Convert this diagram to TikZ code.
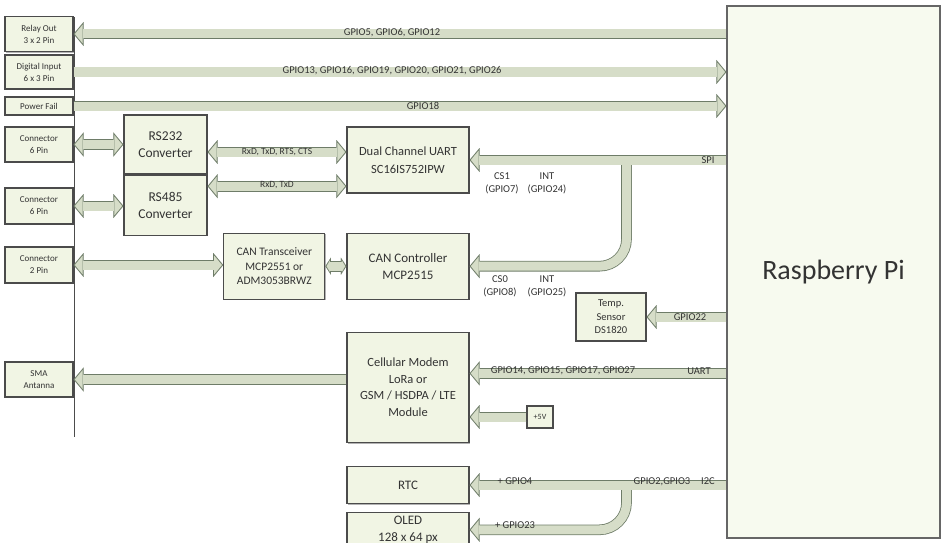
\documentclass[tikz,border=0pt]{standalone}
\usepackage{fontspec}
\setmainfont{Carlito}
\usetikzlibrary{positioning,arrows.meta,shadows}
\definecolor{boxfill}{HTML}{F1F5E4}
\definecolor{pifill}{HTML}{F7FAEF}
\definecolor{busfill}{HTML}{D6DDC8}
\definecolor{busline}{HTML}{6E7C68}
\definecolor{boxline}{HTML}{4B4B4B}
\definecolor{txt}{HTML}{333333}
\tikzset{
  Bo/.tip={Triangle[length=10pt, width=24pt, line width=0.01pt]},
  Bi/.tip={Triangle[length=7.7pt, width=18.5pt, line width=0.01pt]},
  Bso/.tip={Triangle[length=5.5pt, width=17pt, line width=0.01pt]},
  Bsi/.tip={Triangle[length=3.3pt, width=11pt, line width=0.01pt]},
  block/.style={draw=boxline, line width=1.2pt, fill=boxfill, text=txt, align=center, inner sep=1pt,
    drop shadow={shadow xshift=1.2pt, shadow yshift=-1.2pt, fill=black!50, opacity=.6}},
  port/.style={block, font=\fontsize{9}{12}\selectfont, minimum width=68pt},
  chip/.style={block, minimum width=122pt, font=\fontsize{13}{17}\selectfont},
  bus/.style={draw=busline, line width=10.6pt, -Bo,
    postaction={draw=busfill, line width=9pt, -Bi, shorten >=1.3pt}},
  bus2/.style={draw=busline, line width=10.6pt, Bo-Bo,
    postaction={draw=busfill, line width=9pt, Bi-Bi, shorten >=1.3pt, shorten <=1.3pt}},
  bus2s/.style={draw=busline, line width=10.6pt, Bso-Bso,
    postaction={draw=busfill, line width=9pt, Bsi-Bsi, shorten >=1.2pt, shorten <=1.2pt}},
  patch/.style={draw=busfill, line width=9pt},
  lbl/.style={text=txt, font=\fontsize{10.5}{13}\selectfont, inner sep=0pt, align=center},
}

\begin{document}
\begin{tikzpicture}[x=1pt,y=-1pt]
   \useasboundingbox (0,0) rectangle (942,543);
   \draw[black!70, line width=0.8pt] (74,17) -- (74,437);
   % connectors on the left
   \node[port, minimum height=35pt] (relay) at (39,34) {Relay Out\\3 x 2 Pin};
   \node[port, minimum height=34pt] (digital) at (39,72) {Digital Input\\6 x 3 Pin};
   \node[port, minimum height=18pt] (pwrfail) at (39,106) {Power Fail};
   \node[port, minimum height=35pt] (con232) at (39,144.5) {Connector\\6 Pin};
   \node[port, minimum height=36pt] (con485) at (39,206) {Connector\\6 Pin};
   \node[port, minimum height=36pt] (concan) at (39,265) {Connector\\2 Pin};
   \node[port, minimum height=35pt] (sma) at (39,379.5) {SMA\\Antanna};
   % chips
   \node[chip, minimum width=83pt, minimum height=59pt, font=\fontsize{13.5}{17}\selectfont] (rs232) at (165.5,144.5) {RS232\\Converter};
   \node[chip, minimum width=83pt, minimum height=60pt, font=\fontsize{13.5}{17}\selectfont] (rs485) [below=0pt of rs232] {RS485\\Converter};
   \node[chip, minimum height=66pt, font=\fontsize{12.5}{18}\selectfont] (uart) at (408,160) {Dual Channel UART\\SC16IS752IPW};
   \node[chip, minimum height=66pt] (canctl) [below=39pt of uart] {CAN Controller\\MCP2515};
   \node[chip, minimum width=101pt, minimum height=66pt, font=\fontsize{11.5}{14.5}\selectfont] (cantrx) [left=21pt of canctl] {CAN Transceiver\\MCP2551 or\\ADM3053BRWZ};
   \node[chip, minimum height=110pt, font=\fontsize{12.5}{16.5}\selectfont] (modem) [below=32pt of canctl] {Cellular Modem\\LoRa or\\GSM / HSDPA / LTE\\Module};
   \node[chip, minimum height=37pt] (rtc) [below=23pt of modem] {RTC};
   \node[chip, minimum height=34pt] (oled) [below=8pt of rtc] {OLED\\128 x 64 px};
   \node[block, minimum width=70pt, minimum height=48pt, font=\fontsize{10.5}{13.5}\selectfont] (temp) at (611,317) {Temp.\\Sensor\\DS1820};
   \node[block, minimum width=26pt, minimum height=22pt, font=\fontsize{8}{10}\selectfont] (v5) at (540,417) {+5V};
   \node[block, fill=pifill, draw=black!60, minimum width=213pt, minimum height=532pt, font=\fontsize{28}{32}\selectfont] (pi) at (833.5,272) {Raspberry Pi};
   % buses
   \draw[bus] (relay.east -| pi.west) -- (relay.east);
   \draw[bus] (digital.east) -- (digital.east -| pi.west);
   \draw[bus] (pwrfail.east) -- (pwrfail.east -| pi.west);
   \draw[bus2] (con232.east) -- (con232.east -| rs232.west);
   \draw[bus2] (con485.east) -- (con485.east -| rs485.west);
   \draw[bus2] (concan.east) -- (concan.east -| cantrx.west);
   \draw[bus2s] (cantrx) -- (canctl);
   \coordinate (ser1) at ([yshift=-7.5pt]rs232.east);
   \coordinate (ser2) at ([yshift=19pt]rs485.east);
   \draw[bus2] (ser1) -- (ser1 -| uart.west);
   \draw[bus2] (ser2) -- (ser2 -| uart.west);
   \coordinate (tap) at (626.5,0);
   \draw[bus] (uart.east -| pi.west) -- (uart.east);
   \draw[bus, rounded corners=27pt] (tap |- uart.east) |- (canctl.east);
   \draw[patch] ([xshift=-5.3pt]tap |- uart.east) -- ([xshift=5.3pt]tap |- uart.east);
   \draw[bus] (temp.east -| pi.west) -- (temp.east);
   \coordinate (ser3) at ([yshift=14pt]modem.east);
   \draw[bus] (ser3 -| pi.west) -- (ser3);
   \draw[bus] (v5.west) -- (v5.west -| modem.east);
   \draw[bus] (sma.east -| modem.west) -- (sma.east);
   \draw[bus] (rtc.east -| pi.west) -- (rtc.east);
   \draw[bus, rounded corners=27pt] (tap |- rtc.east) |- (oled.east);
   \draw[patch] ([xshift=-5.3pt]tap |- rtc.east) -- ([xshift=5.3pt]tap |- rtc.east);
   % labels
   \node[lbl] (lrelay) at (392,33) {GPIO5, GPIO6, GPIO12};
   \node[lbl] (ldigital) at (392,71) {GPIO13, GPIO16, GPIO19, GPIO20, GPIO21, GPIO26};
   \node[lbl] (lpwr) at (423,106) {GPIO18};
   \node[lbl, font=\fontsize{9.5}{12}\selectfont] (lser1) at (277,152) {RxD, TxD, RTS, CTS};
   \node[lbl, font=\fontsize{9.5}{12}\selectfont] (lser2) at (277,185.5) {RxD, TxD};
   \node[lbl] (lspi) at (708,160) {SPI};
   \node[lbl] (lcs1) at (502,183.5) {CS1\\(GPIO7)};
   \node[lbl] (lint1) at (547,183.5) {INT\\(GPIO24)};
   \node[lbl] (lcs0) at (500,286.5) {CS0\\(GPIO8)};
   \node[lbl] (lint0) at (547,286.5) {INT\\(GPIO25)};
   \node[lbl] (ltemp) at (690,317) {GPIO22};
   \node[lbl] (luart) at (563,371) {GPIO14, GPIO15, GPIO17, GPIO27};
   \node[lbl] (luart2) at (699,371) {UART};
   \node[lbl] (lrtc) at (515,481.5) {+ GPIO4};
   \node[lbl] (li2c) at (662,481.5) {GPIO2,GPIO3};
   \node[lbl] (li2c2) at (708,481.5) {I2C};
   \node[lbl] (loled) at (515,525) {+ GPIO23};
\end{tikzpicture}
\end{document}
